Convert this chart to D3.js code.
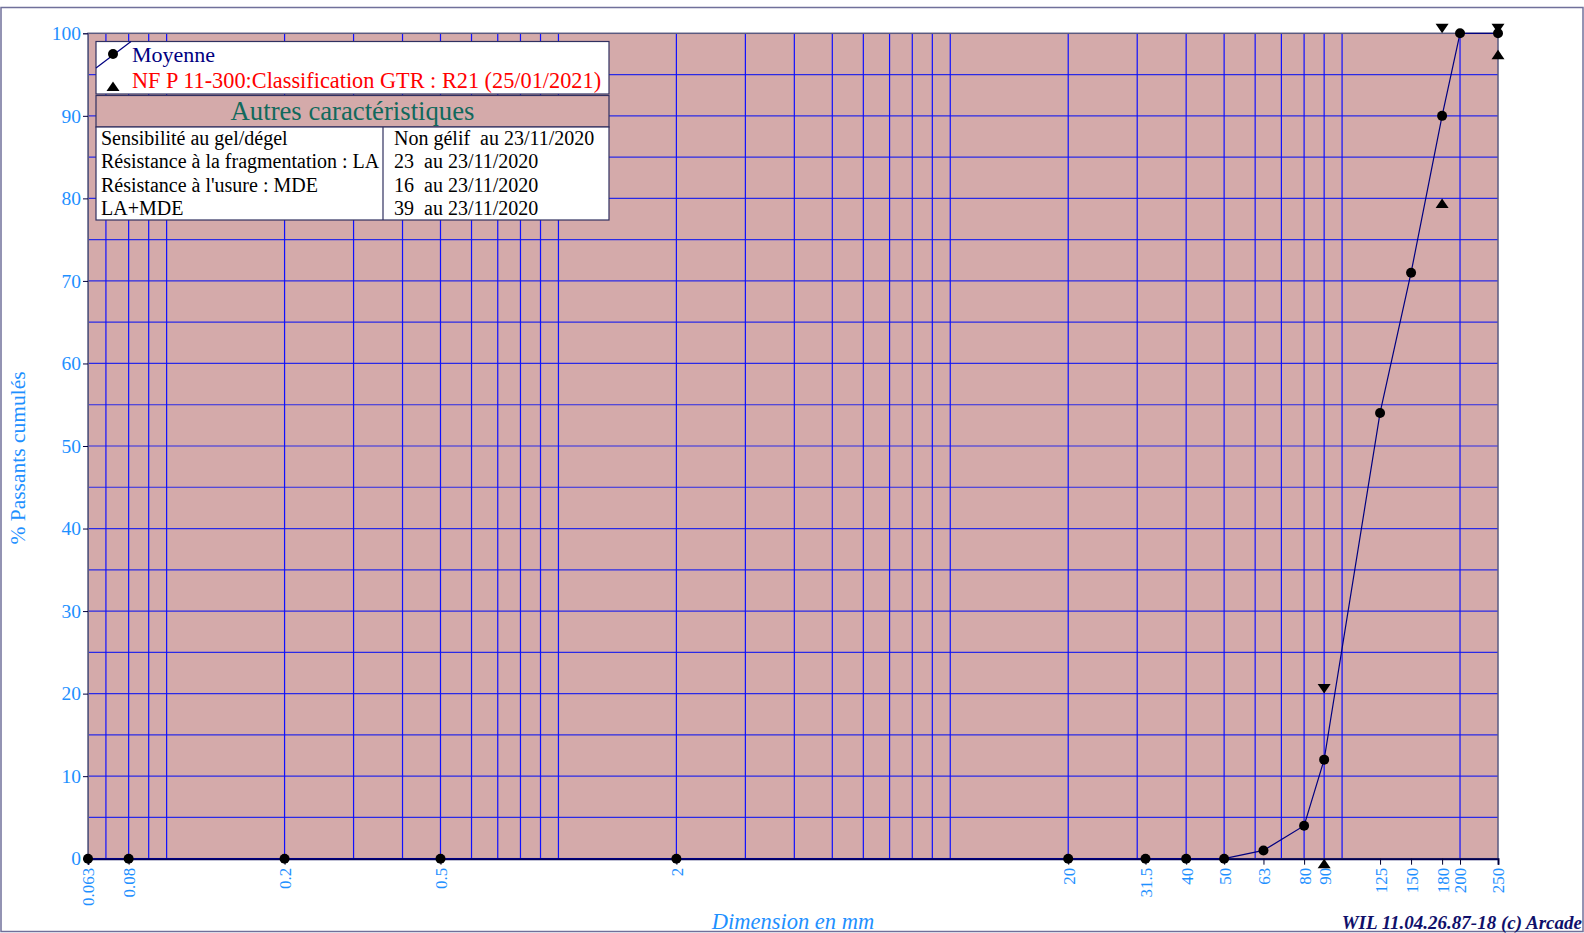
<!DOCTYPE html>
<html><head><meta charset="utf-8">
<script src="https://cdn.jsdelivr.net/npm/d3@7"></script>
<style>
html,body{margin:0;padding:0;background:#fff;}
svg{display:block;font-family:"Liberation Serif","Times New Roman",serif;}
</style></head>
<body><svg id="c" width="1584" height="933"></svg>
<script>
// ---- data ----
const sieveLabels = ["0.063","0.08","0.2","0.5","2","20","31.5","40","50","63","80","90","125","150","180","200","250"];
const sieves = [0.063,0.08,0.2,0.5,2,20,31.5,40,50,63,80,90,125,150,180,200,250];
const moyenne = [0,0,0,0,0,0,0,0,0,1,4,12,54,71,90,100,100];
const specMaxSieves = [90,180,250];
const specMax = [20,100,100];
const specMinSieves = [90,180,250];
const specMin = [0,80,98];
const gridX = [0.07,0.08,0.09,0.1,0.2,0.3,0.4,0.5,0.6,0.7,0.8,0.9,1,2,3,4,5,6,7,8,9,10,20,30,40,50,60,70,80,90,100,200];
const gridY = [5,10,15,20,25,30,35,40,45,50,55,60,65,70,75,80,85,90,95];
const yTicks = [0,10,20,30,40,50,60,70,80,90,100];
const tableLeft = ["Sensibilité au gel/dégel","Résistance à la fragmentation : LA","Résistance à l'usure : MDE","LA+MDE"];
const tableRight = ["Non gélif  au 23/11/2020","23  au 23/11/2020","16  au 23/11/2020","39  au 23/11/2020"];
const legendLabels = ["Moyenne","NF P 11-300:Classification GTR : R21 (25/01/2021)"];

// ---- layout ----
const L=88, R=1498, T=33.3, B=858.7;
const svg = d3.select("#c");
const x = d3.scaleLog().domain([0.063,250]).range([L,R]);
const y = d3.scaleLinear().domain([0,100]).range([B,T]);
const tickBlue = "#1e90ff";

// outer frame
svg.append("rect").attr("x",1).attr("y",7.5).attr("width",1582).attr("height",924)
  .attr("fill","none").attr("stroke","#70709a").attr("stroke-width",1.5);

// plot background
svg.append("rect").attr("x",L).attr("y",T).attr("width",R-L).attr("height",B-T).attr("fill","#d4aaaa");

// grid
svg.append("g").selectAll("line").data(gridY).join("line")
  .attr("x1",L).attr("x2",R).attr("y1",d=>y(d)).attr("y2",d=>y(d))
  .attr("stroke","#2a2ae6").attr("stroke-width",1.2);
svg.append("g").selectAll("line").data(gridX).join("line")
  .attr("x1",d=>x(d)).attr("x2",d=>x(d)).attr("y1",T).attr("y2",B)
  .attr("stroke","#1010ff").attr("stroke-width",1.2);

// plot border
svg.append("rect").attr("x",L).attr("y",T).attr("width",R-L).attr("height",B-T)
  .attr("fill","none").attr("stroke","#5a5a80").attr("stroke-width",1.5);

// y axis
const yAxis = d3.axisLeft(y).tickValues(yTicks).tickSize(5).tickPadding(2).tickFormat(d3.format("d"));
const gy = svg.append("g").attr("transform",`translate(${L},0)`).call(yAxis);
gy.select(".domain").attr("stroke","#5a5a80");
gy.selectAll(".tick line").attr("stroke","#000040");
gy.selectAll(".tick text").attr("fill",tickBlue).attr("font-size",19.5).attr("font-family","Liberation Serif");

// x axis
const xAxis = d3.axisBottom(x).tickValues(sieves).tickSize(6).tickFormat((d,i)=>sieveLabels[i]);
const gx = svg.append("g").attr("transform",`translate(0,${B})`).call(xAxis);
gx.select(".domain").attr("stroke","#000050").attr("stroke-width",2);
gx.selectAll(".tick line").attr("stroke","#000030");
gx.selectAll(".tick text").attr("fill",tickBlue).attr("font-size",17).attr("font-family","Liberation Serif")
  .attr("transform","rotate(-90)").attr("text-anchor","end").attr("dy","0.35em").attr("x",-9).attr("y",0);

// series line
const line = d3.line().x((d,i)=>x(sieves[i])).y(d=>y(d));
svg.append("path").datum(moyenne).attr("d",line).attr("fill","none").attr("stroke","#000080").attr("stroke-width",1.2);
svg.append("g").selectAll("circle").data(moyenne).join("circle")
  .attr("cx",(d,i)=>x(sieves[i])).attr("cy",d=>y(d)).attr("r",5).attr("fill","#000");

// spec triangles: tip at value
const tw=6.5, th=9.5;
svg.append("g").selectAll("path").data(specMax).join("path")
  .attr("d",(d,i)=>{const cx=x(specMaxSieves[i]), cy=y(d); return `M${cx},${cy}L${cx-tw},${cy-th}L${cx+tw},${cy-th}Z`;})
  .attr("fill","#000");
svg.append("g").selectAll("path").data(specMin).join("path")
  .attr("d",(d,i)=>{const cx=x(specMinSieves[i]), cy=y(d); return `M${cx},${cy}L${cx-tw},${cy+th}L${cx+tw},${cy+th}Z`;})
  .attr("fill","#000");

// legend box
const lg = svg.append("g");
lg.append("rect").attr("x",96).attr("y",41.5).attr("width",513).attr("height",52.5).attr("fill","#fff").attr("stroke","#303060").attr("stroke-width",1.2);
lg.append("line").attr("x1",96).attr("y1",68).attr("x2",131).attr("y2",41.5).attr("stroke","#000080").attr("stroke-width",1.2);
lg.append("circle").attr("cx",113).attr("cy",54).attr("r",5).attr("fill","#000");
lg.append("text").attr("x",132).attr("y",62).attr("font-size",22).attr("fill","#000080").text(legendLabels[0]);
lg.append("path").attr("d","M113,81.5L106.5,91L119.5,91Z").attr("fill","#000");
lg.append("text").attr("x",132).attr("y",87.5).attr("font-size",22.3).attr("fill","#ff0000").text(legendLabels[1]);

// header
lg.append("rect").attr("x",96).attr("y",95.5).attr("width",513).attr("height",31.5).attr("fill","#d4aaaa").attr("stroke","#303060").attr("stroke-width",1.2);
lg.append("text").attr("x",352.5).attr("y",120).attr("text-anchor","middle").attr("font-size",26.7).attr("fill","#11695c").text("Autres caractéristiques");

// table
lg.append("rect").attr("x",96).attr("y",127).attr("width",513).attr("height",93).attr("fill","#fff").attr("stroke","#303060").attr("stroke-width",1.2);
lg.append("line").attr("x1",383).attr("x2",383).attr("y1",127).attr("y2",220).attr("stroke","#303060").attr("stroke-width",1.2);
lg.append("g").selectAll("text").data(tableLeft).join("text")
  .attr("x",101).attr("y",(d,i)=>145+i*23.3).attr("font-size",20).attr("fill","#000").text(d=>d);
lg.append("g").selectAll("text").data(tableRight).join("text")
  .attr("x",394).attr("y",(d,i)=>145+i*23.3).attr("font-size",20).attr("fill","#000")
  .style("white-space","pre").text(d=>d);

// axis titles
svg.append("text").attr("transform","translate(25,458) rotate(-90)").attr("text-anchor","middle")
  .attr("font-size",21.5).attr("fill",tickBlue).text("% Passants cumulés");
svg.append("text").attr("x",793).attr("y",929).attr("text-anchor","middle").attr("font-size",22.5)
  .attr("font-style","italic").attr("fill",tickBlue).text("Dimension en mm");
svg.append("text").attr("x",1582).attr("y",929).attr("text-anchor","end").attr("font-size",19)
  .attr("font-style","italic").attr("font-weight","bold").attr("fill","#10106a").text("WIL 11.04.26.87-18 (c) Arcade");
</script></body></html>
